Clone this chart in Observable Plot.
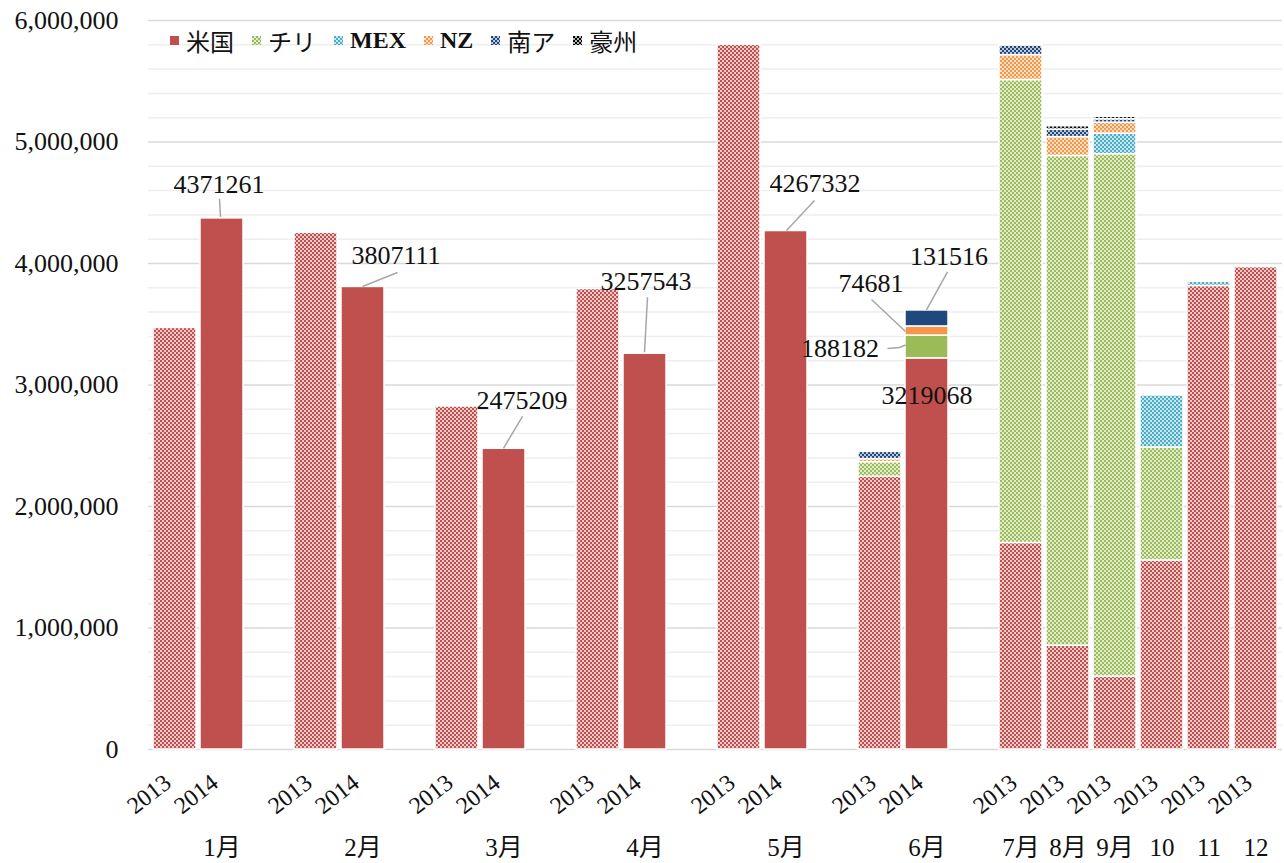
<!DOCTYPE html>
<html><head><meta charset="utf-8">
<script src="https://cdn.jsdelivr.net/npm/d3@7"></script>
<script src="https://cdn.jsdelivr.net/npm/@observablehq/plot@0.6"></script>
<style>
body{margin:0;background:#fff;}
#wrap{position:relative;width:1284px;height:863px;}
#legend{position:absolute;left:170px;top:26px;height:28px;display:flex;align-items:center;font-family:"Liberation Serif","Noto Sans CJK JP",serif;font-size:24px;color:#111;}
.item{display:flex;align-items:center;margin-right:18px;white-space:nowrap;}
.item svg{margin-right:7px;}
.b{font-weight:bold;}
</style></head><body><div id="wrap"><div id="legend"></div></div>
<script>
// ---- data ----
const months = ["1月","2月","3月","4月","5月","6月","7月","8月","9月","10","11","12"];
const barMonth = ["1月","1月","2月","2月","3月","3月","4月","4月","5月","5月","6月","6月","7月","8月","9月","10","11","12"];
const barYear  = ["2013","2014","2013","2014","2013","2014","2013","2014","2013","2014","2013","2014","2013","2013","2013","2013","2013","2013"];
const seriesNames  = ["米国","チリ","MEX","NZ","南ア","豪州"];
const seriesColors = ["#c0504d","#9bbb59","#4bacc6","#f79646","#1f497d","#000000"];
const us    = [3470000,4371261,4253000,3807111,2823000,2475209,3790000,3257543,5800000,4267332,2245000,3219068,1700000,855000,600000,1556000,3815000,3970000];
const chile = [0,0,0,0,0,0,0,0,0,0,120000,188182,3810000,4030000,4300000,930000,0,0];
const mex   = [0,0,0,0,0,0,0,0,0,0,0,0,0,0,169000,428000,35000,0];
const nz    = [0,0,0,0,0,0,0,0,0,0,25000,74681,205000,155000,90000,0,0,0];
const sa    = [0,0,0,0,0,0,0,0,0,0,60000,131516,80000,62000,28000,0,0,0];
const au    = [0,0,0,0,0,0,0,0,0,0,0,0,10000,28000,20000,0,0,0];
const seriesValues = [us, chile, mex, nz, sa, au];
const yTicks = [0,1000000,2000000,3000000,4000000,5000000,6000000];
const yMinor = d3.range(200000, 6000000, 200000).filter(v => v % 1000000 !== 0);

// data labels (bar index, series index, anchor, offsets in px)
const labelSpecs = [
  {bar:1,  s:0, at:"top", dx:-3,  dy:-34, leader:[[-1,-1],[-2,-19]]},
  {bar:3,  s:0, at:"top", dx:33,  dy:-31, leader:[[0,0],[35,-14]]},
  {bar:5,  s:0, at:"top", dx:18,  dy:-48, leader:[[0,0],[19,-32]]},
  {bar:7,  s:0, at:"top", dx:1,   dy:-72, leader:[[0,-1],[3,-56]]},
  {bar:9,  s:0, at:"top", dx:29,  dy:-47, leader:[[1,0],[29,-30]]},
  {bar:11, s:4, at:"top", dx:22,  dy:-54, leader:[[0,0],[21,-38]]},
  {bar:11, s:3, at:"mid", dx:-56, dy:-47, leader:[[-21,1],[-55,-31]]},
  {bar:11, s:1, at:"mid", dx:-87, dy:2,   leader:[[-21,-1.5],[-27,1],[-39,2]]},
  {bar:11, s:0, at:"top", dx:0,   dy:37,  leader:null}
];

// ---- derived tables ----
const keyOf = i => barMonth[i] + "|" + barYear[i];
const slots = [];
barMonth.forEach((m, i) => {
  slots.push(keyOf(i));
  if (barYear[i] === "2014") slots.push(m + "|");
});
const barKeys = barMonth.map((m, i) => keyOf(i));
const light = seriesColors.map(c => d3.interpolateRgb(c, "#ffffff")(0.7));

const rows = [];
barMonth.forEach((m, i) => {
  seriesNames.forEach((s, j) => {
    const v = seriesValues[j][i];
    if (v > 0) rows.push({key: keyOf(i), series: s, v,
      fill: barYear[i] === "2014" ? seriesColors[j] : `url(#pat${j})`});
  });
});

const monthRows = months.map(m => {
  const i = barMonth.indexOf(m);
  const k = barMonth.filter(x => x === m).length > 1 ? m + "|2014" : keyOf(i);
  return {key: k, label: m};
});

function cum(bar, s) { let t = 0; for (let j = 0; j <= s; j++) t += seriesValues[j][bar]; return t; }
const labels = labelSpecs.map(l => {
  const top = cum(l.bar, l.s);
  const y = l.at === "top" ? top : top - seriesValues[l.s][l.bar] / 2;
  return {...l, key: keyOf(l.bar), y, text: String(seriesValues[l.s][l.bar])};
});

const font = "Liberation Serif, Noto Sans CJK JP, serif";

const chart = Plot.plot({
  width: 1284, height: 863,
  marginLeft: 148, marginRight: 2, marginTop: 20, marginBottom: 114,
  x: {domain: slots, padding: 0.08, axis: null},
  y: {domain: [0, 6000000], axis: null},
  color: {type: "identity"},
  style: {fontFamily: font, color: "#111", background: "#fff"},
  marks: [
    Plot.ruleY(yMinor, {stroke: "#eeeeee", strokeWidth: 1.5}),
    Plot.ruleY(yTicks, {stroke: "#d9d9d9", strokeWidth: 1.5}),
    Plot.barY(rows, {x: "key", y: "v", fill: "fill", stroke: "#ffffff", strokeWidth: 1.5}),
    Plot.axisY({ticks: yTicks, tickFormat: d3.format(","), tickSize: 0, tickPadding: 30, fontSize: 26, fontFamily: font, label: null, fill: "#111"}),
    Plot.axisX({ticks: barKeys, tickFormat: k => k.split("|")[1], tickSize: 0, tickPadding: 30, tickRotate: -38, dx: -7, fontSize: 24, fontFamily: font, label: null, fill: "#111"}),
    Plot.text(monthRows, {x: "key", text: "label", frameAnchor: "bottom", dy: 106, fontSize: 25, fontFamily: font, fill: "#111"}),
    ...labels.map(l => Plot.text([l], {x: "key", y: "y", text: "text", dx: l.dx, dy: l.dy, fontSize: 26, fontFamily: font, fill: "#111"}))
  ]
});

// patterns
const svg = d3.select(chart);
const defs = svg.insert("defs", ":first-child");
seriesColors.forEach((c, j) => {
  const p = defs.append("pattern").attr("id", "pat" + j).attr("patternUnits", "userSpaceOnUse").attr("width", 4).attr("height", 4);
  p.append("rect").attr("width", 4).attr("height", 4).attr("fill", light[j]);
  p.append("rect").attr("width", 2).attr("height", 2).attr("fill", c);
  p.append("rect").attr("x", 2).attr("y", 2).attr("width", 2).attr("height", 2).attr("fill", c);
});

// leader lines using the plot's scales
const xs = chart.scale("x"), ys = chart.scale("y");
const lg = svg.append("g").attr("stroke", "#a6a6a6").attr("stroke-width", 1.5).attr("fill", "none");
labels.filter(l => l.leader).forEach(l => {
  const cx = xs.apply(l.key) + xs.bandwidth / 2, cy = ys.apply(l.y);
  lg.append("path").attr("d", d3.line()(l.leader.map(([a, b]) => [cx + a, cy + b])));
});

document.getElementById("wrap").prepend(chart);
chart.style.position = "absolute"; chart.style.left = "0"; chart.style.top = "0";

// legend
const legend = document.getElementById("legend");
seriesNames.forEach((s, j) => {
  const item = document.createElement("div");
  item.className = "item";
  const fill = j === 0 ? seriesColors[0] : `url(#pat${j})`;
  item.innerHTML = `<svg width="9" height="9"><rect width="9" height="9" fill="${fill}"></rect></svg><span class="${(s === "MEX" || s === "NZ") ? "b" : ""}">${s}</span>`;
  legend.appendChild(item);
});
</script></body></html>
